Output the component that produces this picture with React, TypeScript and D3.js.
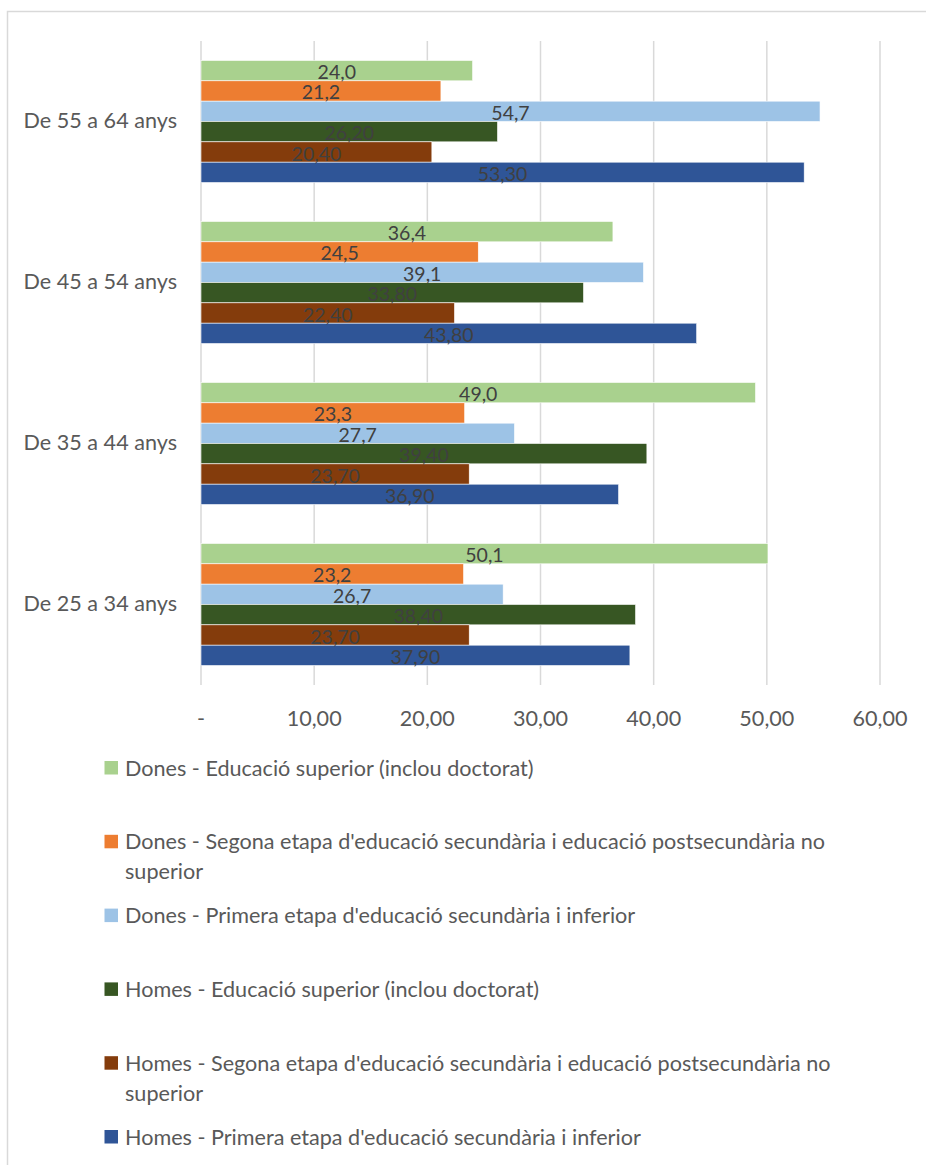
import React, { useEffect, useRef } from "react";
import * as d3 from "d3";

const categories = ["De 55 a 64 anys", "De 45 a 54 anys", "De 35 a 44 anys", "De 25 a 34 anys"];
const seriesNames = [
  "Dones - Educació superior (inclou doctorat)",
  "Dones - Segona etapa d'educació secundària i educació postsecundària no superior",
  "Dones - Primera etapa d'educació secundària i inferior",
  "Homes - Educació superior (inclou doctorat)",
  "Homes - Segona etapa d'educació secundària i educació postsecundària no superior",
  "Homes - Primera etapa d'educació secundària i inferior",
];
const seriesColors = ["#A9D18E", "#ED7D31", "#9DC3E6", "#375623", "#843C0C", "#2F5597"];
const seriesDecimals = [1, 1, 1, 2, 2, 2];
// values per series, in category order
const donesSuperior = [24.0, 36.4, 49.0, 50.1];
const donesSegona = [21.2, 24.5, 23.3, 23.2];
const donesPrimera = [54.7, 39.1, 27.7, 26.7];
const homesSuperior = [26.2, 33.8, 39.4, 38.4];
const homesSegona = [20.4, 22.4, 23.7, 23.7];
const homesPrimera = [53.3, 43.8, 36.9, 37.9];
const seriesValues = [donesSuperior, donesSegona, donesPrimera, homesSuperior, homesSegona, homesPrimera];
const xTicks = [0, 10, 20, 30, 40, 50, 60];

const W = 926;
const H = 1165;
const FONT = "Lato, 'Open Sans', sans-serif";
const FS = 21.6;
const LABEL_FS = 19.5;
const TEXT = "#595959";

export default function App() {
  const ref = useRef<SVGSVGElement | null>(null);
  useEffect(() => {
    const svg = d3.select(ref.current);
    svg.selectAll("*").remove();

    svg.append("rect").attr("x", 0).attr("y", 0).attr("width", W).attr("height", H).attr("fill", "#fff");
    svg.append("rect").attr("x", 7.5).attr("y", 11.5).attr("width", W + 10).attr("height", H + 10)
      .attr("fill", "none").attr("stroke", "#d9d9d9").attr("stroke-width", 1.5);

    const plotTop = 41, plotBottom = 685;
    const x = d3.scaleLinear().domain([0, 60]).range([201, 880]);
    const y = d3.scaleBand().domain(categories).range([plotTop, plotBottom]).paddingInner(0.242).paddingOuter(0.121);
    const inner = d3.scaleBand().domain(seriesNames).range([0, y.bandwidth()]);

    const grid = svg.append("g");
    xTicks.forEach((t) => {
      grid.append("line").attr("x1", x(t)).attr("x2", x(t)).attr("y1", plotTop).attr("y2", plotBottom)
        .attr("stroke", "#d9d9d9").attr("stroke-width", 1.5);
    });

    const fmt = (v: number, d: number) => v.toFixed(d).replace(".", ",");

    seriesValues.forEach((vals, si) => {
      const g = svg.append("g");
      vals.forEach((v, ci) => {
        const y0 = (y(categories[ci]) as number) + (inner(seriesNames[si]) as number);
        g.append("rect").attr("x", x(0)).attr("y", y0).attr("width", x(v) - x(0)).attr("height", inner.bandwidth())
          .attr("fill", seriesColors[si]).attr("stroke", "#fff").attr("stroke-width", 0.6);
      });
    });
    seriesValues.forEach((vals, si) => {
      vals.forEach((v, ci) => {
        const y0 = (y(categories[ci]) as number) + (inner(seriesNames[si]) as number);
        svg.append("text").attr("x", (x(0) + x(v)) / 2).attr("y", y0 + inner.bandwidth() / 2 + 8.5)
          .attr("text-anchor", "middle").attr("font-family", FONT).attr("font-size", LABEL_FS)
          .attr("fill", "#404040").text(fmt(v, seriesDecimals[si]));
      });
    });

    categories.forEach((c) => {
      svg.append("text").attr("x", 177).attr("y", (y(c) as number) + y.bandwidth() / 2 + 6)
        .attr("text-anchor", "end").attr("font-family", FONT).attr("font-size", FS).attr("fill", TEXT).text(c);
    });

    xTicks.forEach((t) => {
      svg.append("text").attr("x", x(t)).attr("y", 726).attr("text-anchor", "middle")
        .attr("font-family", FONT).attr("font-size", FS).attr("fill", TEXT)
        .text(t === 0 ? "-" : fmt(t, 2));
    });

    // legend
    const legTop = 768, legStep = 73.8, lineH = 30, maxW = 750;
    const canvas = document.createElement("canvas");
    const ctx = canvas.getContext("2d")!;
    ctx.font = `${FS}px ${FONT}`;
    seriesNames.forEach((name, i) => {
      const cy = legTop + i * legStep;
      svg.append("rect").attr("x", 104.5).attr("y", cy - 7).attr("width", 13.5).attr("height", 13.5).attr("fill", seriesColors[i]);
      const words = name.split(" ");
      const lines: string[] = [];
      let cur = "";
      words.forEach((w) => {
        const test = cur ? cur + " " + w : w;
        if (ctx.measureText(test).width > maxW && cur) { lines.push(cur); cur = w; } else cur = test;
      });
      lines.push(cur);
      const t = svg.append("text").attr("font-family", FONT).attr("font-size", FS).attr("fill", TEXT);
      lines.forEach((l, li) => {
        t.append("tspan").attr("x", 125).attr("y", cy + 7.5 + li * lineH).text(l);
      });
    });
  }, []);
  return <svg ref={ref} width={W} height={H} style={{ display: "block", position: "absolute", left: 0, top: 0 }} />;
}
